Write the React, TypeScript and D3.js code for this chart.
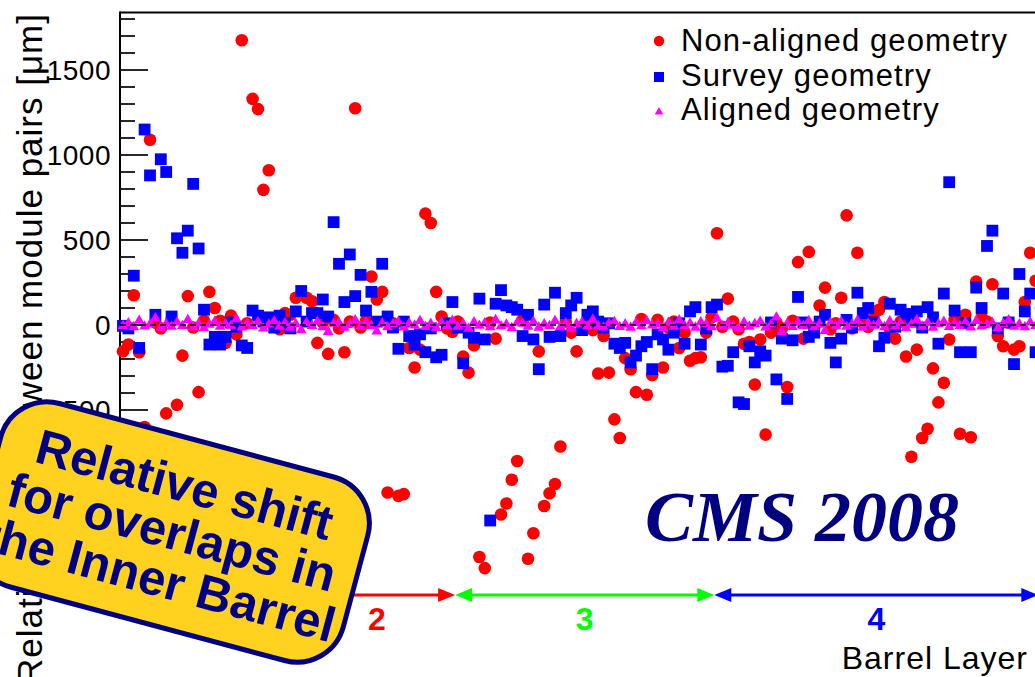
import React from "react";
import * as d3 from "d3";

// Relative shift (µm) for each overlap module pair, ordered by pair index through the Inner Barrel layers
const nonAlignedShift: number[] = [
  -155, -115, 175, -160, -600, 1090, 15, -20, -520, 30, -470, -180, 170, -15, -395, 25, 195, 100, 25,
  -105, 55, -55, 1675, 10, 1330, 1270, 795, 910, 20, -25, 70, 60, 160, 175, 160, 140, -105, 15,
  -170, 30, -20, -160, 20, 1275, -15, 25, 285, 150, 195, -985, 10, -1005, -995, -135, -250, -145, 655,
  600, 195, 50, -20, -40, 20, -185, -280, -120, -1365, -1430, 15, -80, -1115, -1050, -910, -800, 30, -1375,
  -1225, -155, -1065, -990, -935, -715, 20, -45, -155, -10, 25, -30, -285, -65, -280, -555, -665, -195, -260,
  -395, 35, -410, -295, 30, -250, -15, 20, -135, -45, -210, -195, -190, -45, 45, 540, -10, 155, 20,
  -25, -110, -100, -350, -85, -645, -45, 15, -20, -365, 25, 370, -80, 430, -15, 115, 220, -25, 10,
  160, 645, -20, 425, 15, -10, 35, 90, 135, -20, -80, 20, -185, -775, -145, -665, -610, -255, -455,
  -340, -85, 30, -640, 60, -660, 255, 45, 20, 240, -65, -125, 15, -145, -125, 135, 425, 260, 100,
];

const surveyShift: number[] = [
  -5, -20, 290, -135, 1150, 880, 60, 975, 900, 50, 510, 425, 555, 830, 450, 90, -115, -70, -115,
  -70, 15, -10, -120, -135, 85, 55, 20, 45, -15, 55, 10, -20, 80, 200, 20, 70, 70, 150,
  50, 605, 360, 135, 415, 170, 295, 85, 195, 20, 360, 50, -15, -140, 20, -65, -115, -55, -160,
  -20, -190, -175, 10, 135, -15, -225, -45, -75, 155, -85, -1150, 125, 205, 115, 105, 90, -65, 60,
  -85, -260, 120, -70, 190, -65, 70, 115, 160, -30, 60, 80, 20, -15, 10, -110, -135, -105, -220,
  -180, -125, -100, -260, -55, -85, -145, -45, 10, -110, 80, 105, -115, -20, 105, 120, -245, -240, -160,
  -455, -465, -125, -220, -155, -180, 15, -320, -80, -435, -90, 165, 15, -70, -45, 20, 60, -105, -220,
  -80, 30, -15, 190, 70, 100, 15, -125, -75, 125, -10, 90, 65, 20, 80, -15, 105, 45, -110,
  185, 840, 85, -160, 10, -160, 220, 100, 465, 555, -20, 185, 15, -230, 300, 80, 185, -160, 20,
];

const alignedShift: number[] = [
  -5, 10, -12, 25, -8, 4, 40, -15, 6, -10, 15, -6, 30, -12, 8, -18, 2, 20, -9,
  5, -4, 35, -14, 10, -6, 18, -20, 3, 22, -8, 12, -15, 6, -30, 14, -5, 20, -12,
  -40, 8, 12, -16, 4, 28, -9, 15, -6, -38, 10, -12, 5, 18, -14, 9, -3, 24, -11,
  7, -17, 13, -5, 26, -10, 6, -22, 16, -4, 11, -13, 30, -7, 3, -18, 14, 8, -9,
  20, -15, 5, -6, 24, -12, 10, -20, 7, 15, -8, 32, -5, -14, 9, 18, -11, 4, -16,
  12, -7, 22, -3, 6, -19, 14, -10, 28, -6, 9, -15, 17, 5, -12, 38, -8, 11, -4,
  -20, 15, -9, 6, 20, -14, 3, 45, -40, 8, -11, 16, -5, 24, -13, 7, -35, 12, -6,
  18, -10, 5, 26, -16, 9, -4, 14, -12, 22, -7, 10, -18, 4, 30, -9, 13, -15, 6,
  20, -11, 8, -5, 16, -14, 24, -8, 3, 12, -19, 7, 28, -10, 5, -13, 15, -6, 10,
];

// Barrel layers: label and pair-index boundaries
const layerNames = ["1", "2", "3", "4"];
const layerEdges = [-0.5, 32.5, 61.5, 109.5, 169.5];

const yMajorTicks = [-1500, -1000, -500, 0, 500, 1000, 1500];
const legendLabels = ["Non-aligned geometry", "Survey geometry", "Aligned geometry"];

const layerColors = ["#000000", "#ff0000", "#00ff00", "#0000ff"];
const SANS = "'Liberation Sans', Arial, Helvetica, sans-serif";
const SERIF = "'Liberation Serif', 'Times New Roman', serif";
const NAVY = "#000080";

export default function App() {
  const W = 1035;
  const H = 677;
  const frameLeft = 120;
  const frameTop = 12.5;
  const frameBottom = 615;

  const x = d3.scaleLinear().domain([0, 170]).range([123, 1041]);
  const y = d3.scaleLinear().domain([0, 1500]).range([325, 70]);

  const minorTicks = d3.range(-1700, 1801, 100).filter((v) => v % 500 !== 0);
  const tri = d3.symbol().type(d3.symbolTriangle).size(50)() as string;
  const triLegend = d3.symbol().type(d3.symbolTriangle).size(32)() as string;

  const arrowY = 595;
  const headLen = 17;
  const headHalf = 7;

  return (
    <svg
      width={W}
      height={H}
      viewBox={`0 0 ${W} ${H}`}
      style={{ position: "absolute", left: 0, top: 0, display: "block", background: "#fff" }}
    >
      <rect x={0} y={0} width={W} height={H} fill="#fff" />

      {/* frame */}
      <line x1={frameLeft} x2={W} y1={frameTop} y2={frameTop} stroke="#000" strokeWidth={2} />
      <line x1={frameLeft} x2={frameLeft} y1={frameTop - 1} y2={frameBottom} stroke="#000" strokeWidth={2} />

      {/* y axis ticks */}
      {yMajorTicks.map((v) => (
        <g key={`maj${v}`}>
          <line x1={frameLeft} x2={frameLeft + 28} y1={y(v)} y2={y(v)} stroke="#111" strokeWidth={1.8} />
          <text
            x={111}
            y={y(v)}
            dy="0.36em"
            textAnchor="end"
            fontFamily={SANS}
            fontSize={28}
            letterSpacing={0.5}
            fill="#000"
          >
            {v}
          </text>
        </g>
      ))}
      {minorTicks.map((v) => (
        <line key={`min${v}`} x1={frameLeft} x2={frameLeft + 15} y1={y(v)} y2={y(v)} stroke="#111" strokeWidth={1.8} />
      ))}

      {/* y axis title */}
      <text
        transform={`translate(42,13) rotate(-90)`}
        textAnchor="end"
        fontFamily={SANS}
        fontSize={35}
        letterSpacing={1}
        fill="#000"
      >
        Relative shift between module pairs [μm]
      </text>

      {/* data */}
      <g>
        {nonAlignedShift.map((v, i) => (
          <circle key={`r${i}`} cx={x(i)} cy={y(v)} r={6.3} fill="#ff0000" />
        ))}
      </g>
      <g>
        {surveyShift.map((v, i) => (
          <rect key={`b${i}`} x={x(i) - 5.9} y={y(v) - 5.9} width={11.8} height={11.8} fill="#0000ff" />
        ))}
      </g>
      <g>
        {alignedShift.map((v, i) => (
          <path key={`m${i}`} d={tri} transform={`translate(${x(i)},${y(v)})`} fill="#ff00ff" />
        ))}
      </g>

      {/* zero line */}
      <line x1={frameLeft} x2={W} y1={y(0)} y2={y(0)} stroke="#000" strokeWidth={1.5} strokeDasharray="6,4" />

      {/* legend */}
      <g fontFamily={SANS} fontSize={31} letterSpacing={1.1}>
        <circle cx={659} cy={41} r={5.2} fill="#ff0000" />
        <rect x={654} y={72} width={10} height={10} fill="#0000ff" />
        <path d={triLegend} transform="translate(659,112)" fill="#ff00ff" />
        {legendLabels.map((t, k) => (
          <text key={t} x={681} y={51 + k * 34.5} fill="#000">
            {t}
          </text>
        ))}
      </g>

      {/* layer arrows */}
      {layerNames.map((name, k) => {
        const x0 = x(layerEdges[k]);
        const x1 = x(layerEdges[k + 1]);
        const c = layerColors[k];
        return (
          <g key={`layer${name}`}>
            <line x1={x0 + headLen - 2} x2={x1 - headLen + 2} y1={arrowY} y2={arrowY} stroke={c} strokeWidth={3} />
            <path
              d={`M${x0},${arrowY} L${x0 + headLen},${arrowY - headHalf} L${x0 + headLen},${arrowY + headHalf} Z`}
              fill={c}
            />
            <path
              d={`M${x1},${arrowY} L${x1 - headLen},${arrowY - headHalf} L${x1 - headLen},${arrowY + headHalf} Z`}
              fill={c}
            />
            <text
              x={(x0 + x1) / 2}
              y={630}
              textAnchor="middle"
              fontFamily={SANS}
              fontWeight="bold"
              fontSize={32}
              fill={c}
            >
              {name}
            </text>
          </g>
        );
      })}

      {/* x axis title */}
      <text x={1028} y={669} textAnchor="end" fontFamily={SANS} fontSize={32} letterSpacing={1} fill="#000">
        Barrel Layer
      </text>

      {/* CMS label */}
      <text x={645} y={541} fontFamily={SERIF} fontStyle="italic" fontWeight="bold" fontSize={72} fill={NAVY}>
        CMS 2008
      </text>

      {/* callout */}
      <g transform="translate(172,532) rotate(15)">
        <rect x={-190} y={-95} width={380} height={190} rx={48} ry={48} fill="#ffd220" stroke={NAVY} strokeWidth={5} />
        <g fontFamily={SANS} fontWeight="bold" fontSize={49} fill={NAVY} textAnchor="middle">
          <text x={0} y={-32}>Relative shift</text>
          <text x={0} y={17}>for overlaps in</text>
          <text x={0} y={66}>the Inner Barrel</text>
        </g>
      </g>
    </svg>
  );
}
